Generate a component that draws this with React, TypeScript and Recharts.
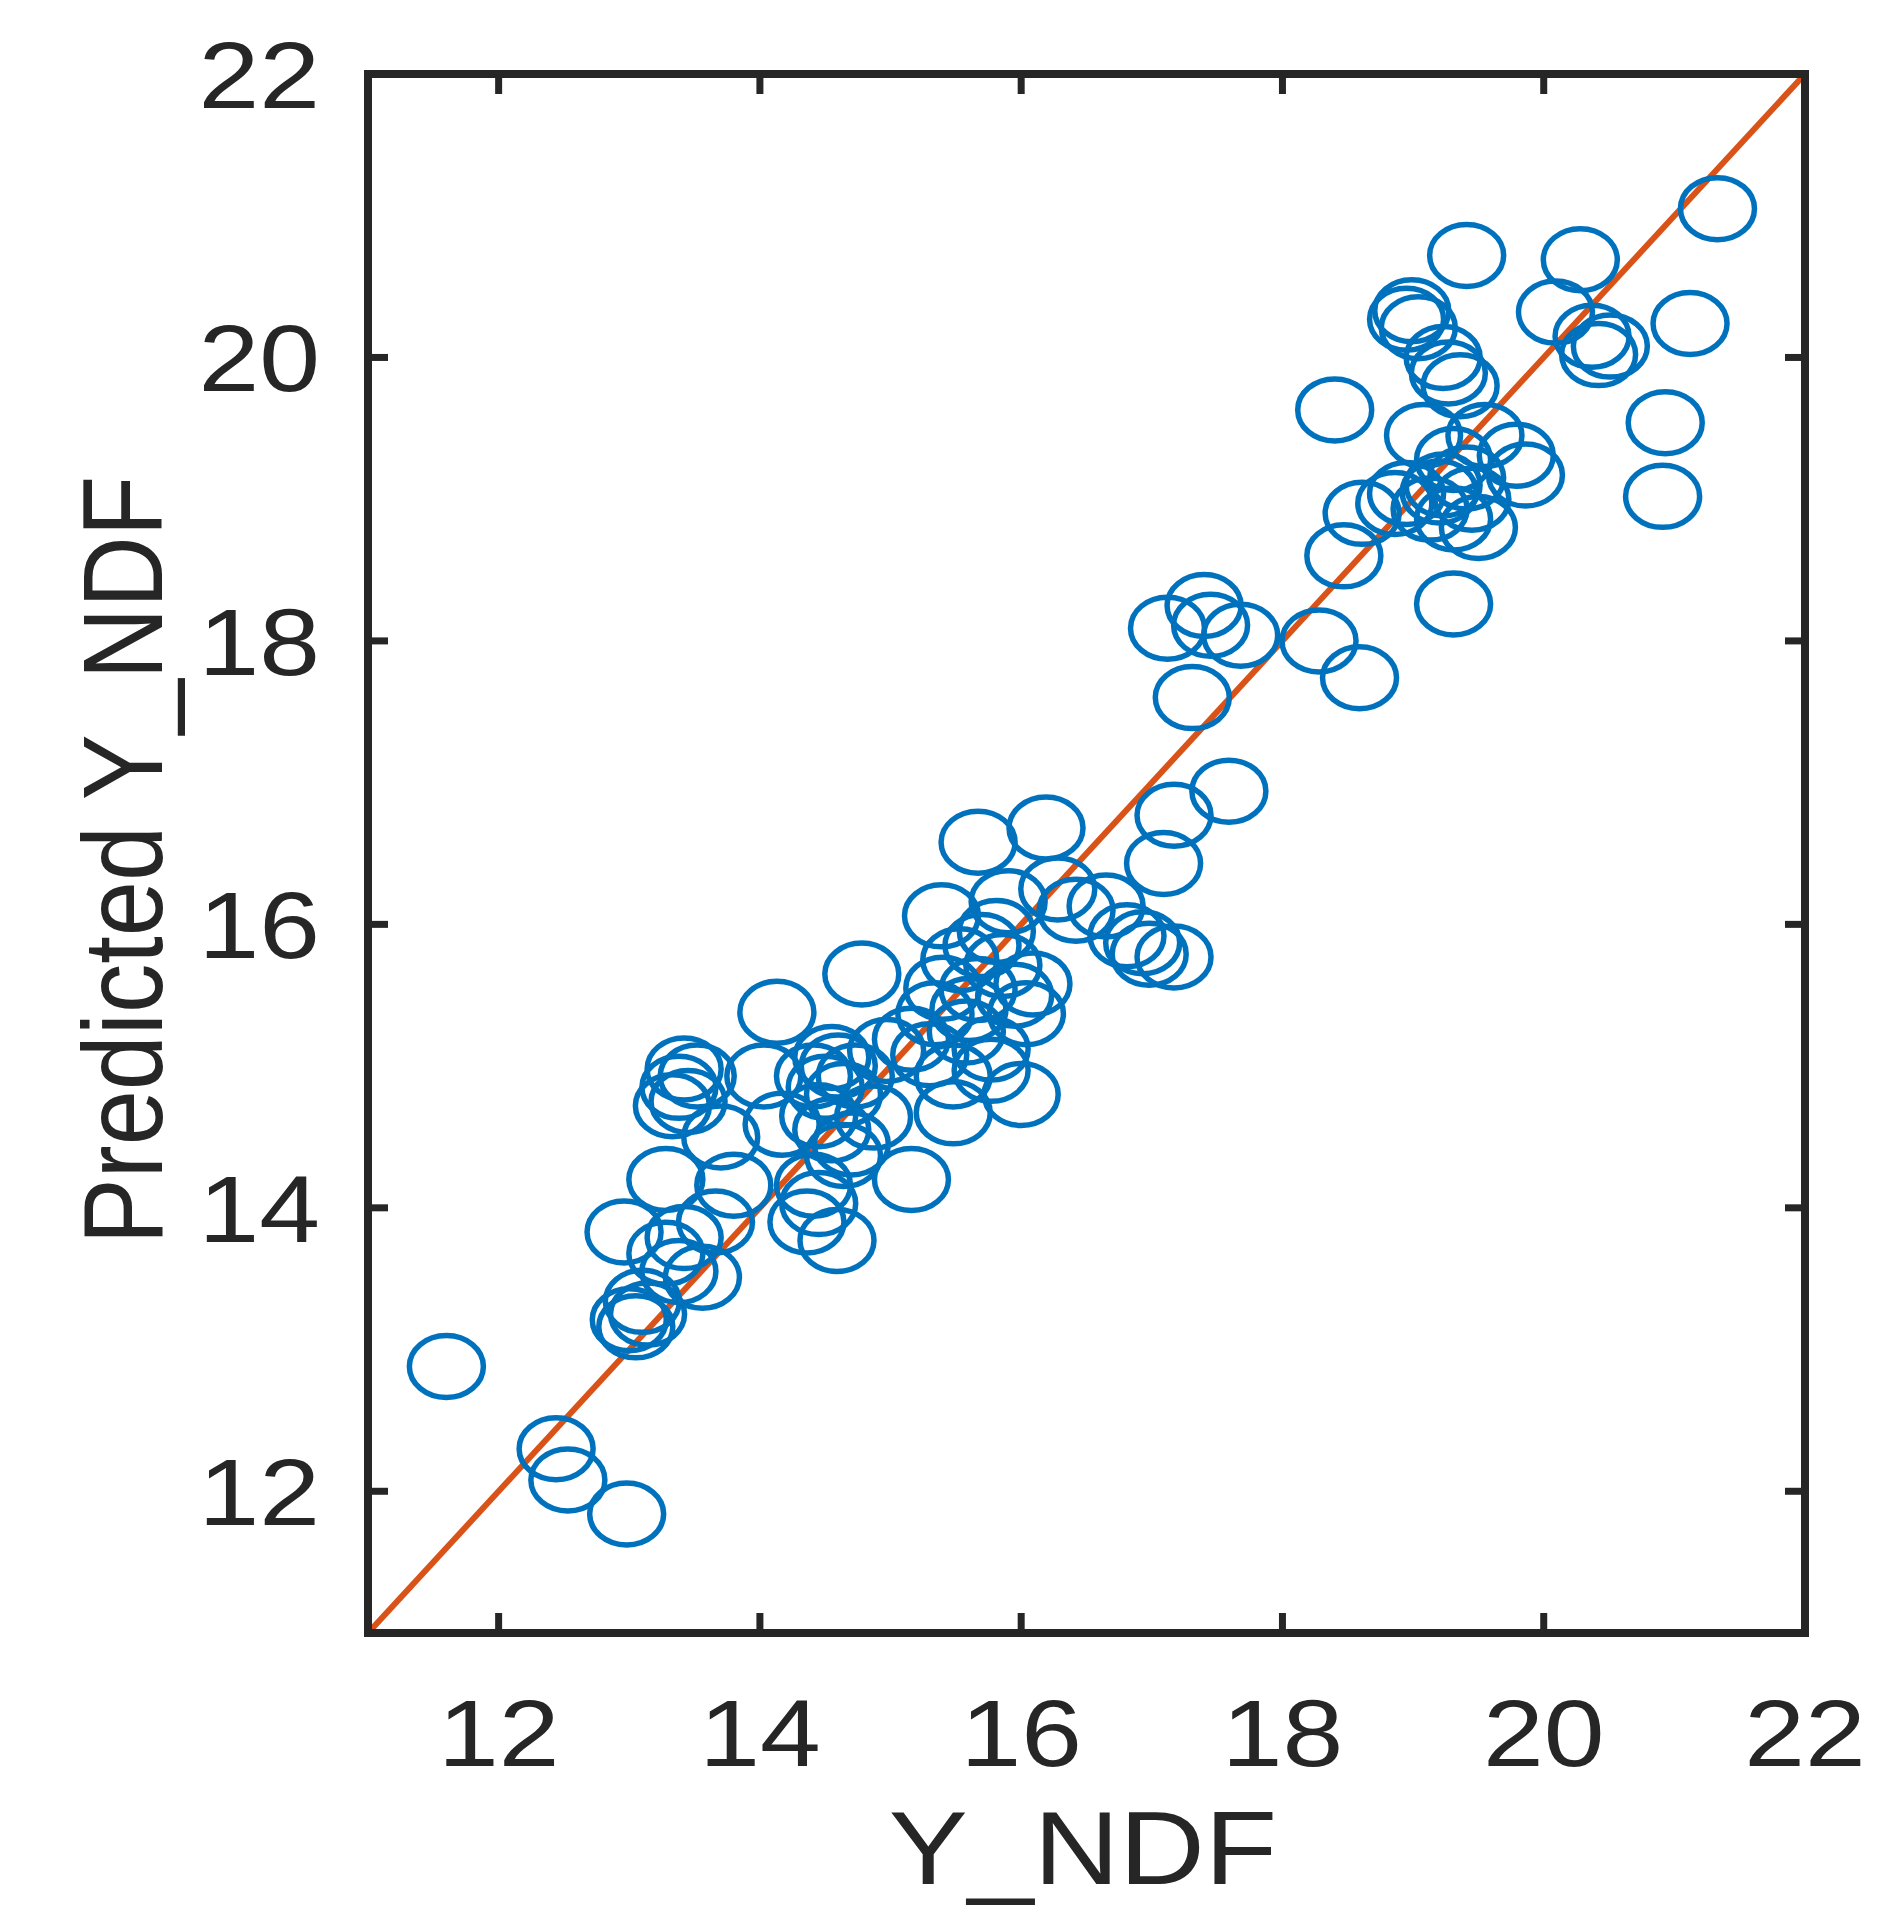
import { ReferenceLine, Scatter, ScatterChart, XAxis, YAxis, Label } from "recharts";

const measuredNdf = [
  21.33, 19.41, 20.28, 20.09, 20.37, 20.51, 20.42, 21.12, 18.99, 19.04, 18.95, 19.23,
  19.27, 19.36, 18.4, 20.93, 20.91, 19.08, 19.55, 19.79, 19.86, 19.31, 19.41, 19.23,
  18.95, 19.13, 19.5, 19.31, 18.61, 18.47, 19.31, 18.28, 18.59, 18.86, 19.2, 19.45,
  17.12, 17.4, 17.45, 17.68, 17.31,
  17.59, 17.17, 17.09, 16.65, 16.81, 16.98, 17.17, 16.93,
  15.67, 16.19, 15.39, 15.9, 16.28, 16.42, 15.81, 15.53, 15.86, 16.09, 15.67, 16.04,
  15.34, 15.58, 15.77, 15.3, 15.48, 15.77, 16.0, 15.48, 15.16, 15.16, 15.6, 15.7, 15.95, 15.4,
  14.78, 14.13, 14.55, 14.41, 14.73, 14.64, 14.03, 14.17, 14.55, 14.87, 14.64, 14.41,
  14.45, 14.36, 14.59, 14.97, 14.5, 14.6, 14.45, 14.7,
  13.42, 13.38, 13.33, 13.52, 13.45, 13.7, 13.8, 13.28, 12.96, 13.28, 13.42, 13.56,
  13.1, 13.05, 13.14, 13.0, 13.66, 13.38,
  11.6, 12.44, 12.53, 12.98,
];

const predictedNdf = [
  21.05, 20.72, 20.69, 20.32, 20.15, 20.08, 20.02, 20.24, 20.33, 20.21, 20.27, 20.0,
  19.89, 19.8, 19.63, 19.54, 19.02, 19.45, 19.45, 19.31, 19.17, 19.28, 19.15, 19.1,
  19.04, 18.93, 18.8, 18.86, 18.9, 18.6, 18.26, 18.0, 17.74, 18.97, 19.05, 19.0,
  18.09, 18.25, 18.11, 18.04, 17.6,
  16.94, 16.77, 16.43, 16.13, 15.92, 15.79, 15.77, 15.87,
  16.58, 16.68, 16.06, 16.16, 16.25, 16.1, 15.95, 15.75, 15.71, 15.58, 15.54, 15.37,
  15.37, 15.24, 15.12, 15.08, 14.93, 14.97, 14.8, 14.67, 14.2, 15.19, 15.4, 15.85, 15.5, 15.55,
  15.65, 15.38, 15.06, 14.93, 14.93, 14.8, 14.93, 14.59, 14.55, 14.64, 14.37, 14.16,
  14.03, 13.9, 13.77, 15.11, 14.85, 15.0, 14.65, 14.45,
  14.98, 14.85, 14.72, 14.93, 14.75, 14.5, 14.16, 14.2, 13.83, 13.68, 13.79, 13.51,
  13.34, 13.16, 13.25, 13.21, 13.9, 13.55,
  12.88, 12.3, 12.08, 11.84,
];

const axisTicks = [12, 14, 16, 18, 20, 22];
const axisDomain = [11, 22];

const points = measuredNdf.map((x, i) => ({ x, y: predictedNdf[i] }));

const INK = "#262626";
const FONT = "'Liberation Sans', Arial, Helvetica, sans-serif";

function Ring(props: any) {
  const { cx, cy } = props;
  return <ellipse cx={cx} cy={cy} rx={37} ry={31} fill="none" stroke="#0072BD" strokeWidth={5.5} />;
}

function BottomTick(props: any) {
  const { x, payload } = props;
  return (
    <text transform={`translate(${x},1758) scale(1.15,1)`} textAnchor="middle" fontSize={95} fontFamily={FONT} fill={INK}>
      {payload.value}
    </text>
  );
}

function LeftTick(props: any) {
  const { y, payload } = props;
  return (
    <text transform={`translate(312,${y + 34}) scale(1.15,1)`} textAnchor="end" fontSize={95} fontFamily={FONT} fill={INK}>
      {payload.value}
    </text>
  );
}

const NoTick = () => <g />;

const frame = { stroke: INK, strokeWidth: 8, strokeLinecap: "square" as const };
const tickMark = { stroke: INK, strokeWidth: 7 };

export default function App() {
  return (
    <ScatterChart width={1868} height={1901} margin={{ top: 65, right: 70, bottom: 0, left: 0 }}>
      <XAxis
        xAxisId="b"
        type="number"
        dataKey="x"
        domain={axisDomain}
        ticks={axisTicks}
        allowDataOverflow
        height={276}
        axisLine={frame}
        tickLine={tickMark}
        tickSize={-20}
        tick={BottomTick}
      >
        <Label
          content={() => (
            <text transform="translate(1075,1876) scale(1.15,1)" textAnchor="middle" fontSize={103} fontFamily={FONT} fill={INK}>
              Y_NDF
            </text>
          )}
        />
      </XAxis>
      <XAxis
        xAxisId="t"
        orientation="top"
        type="number"
        dataKey="x"
        domain={axisDomain}
        ticks={axisTicks}
        allowDataOverflow
        height={1}
        axisLine={frame}
        tickLine={tickMark}
        tickSize={-20}
        tick={NoTick}
      />
      <YAxis
        yAxisId="l"
        type="number"
        dataKey="y"
        domain={axisDomain}
        ticks={axisTicks}
        allowDataOverflow
        width={360}
        axisLine={frame}
        tickLine={tickMark}
        tickSize={-20}
        tick={LeftTick}
      >
        <Label
          content={() => (
            <text transform="translate(154,852) scale(1.15,1) rotate(-90)" textAnchor="middle" fontSize={99} fontFamily={FONT} fill={INK}>
              Predicted Y_NDF
            </text>
          )}
        />
      </YAxis>
      <YAxis
        yAxisId="r"
        orientation="right"
        type="number"
        dataKey="y"
        domain={axisDomain}
        ticks={axisTicks}
        allowDataOverflow
        width={1}
        axisLine={frame}
        tickLine={tickMark}
        tickSize={-20}
        tick={NoTick}
      />
      <Scatter xAxisId="b" yAxisId="l" data={points} shape={Ring} isAnimationActive={false} />
      <Scatter xAxisId="t" yAxisId="r" data={points} shape={NoTick} isAnimationActive={false} />
      <ReferenceLine xAxisId="b" yAxisId="l" y={axisDomain[1]} stroke={INK} strokeWidth={8} ifOverflow="visible" />
      <ReferenceLine xAxisId="b" yAxisId="l" x={axisDomain[1]} stroke={INK} strokeWidth={8} ifOverflow="visible" />
      <ReferenceLine
        xAxisId="b"
        yAxisId="l"
        segment={[
          { x: axisDomain[0], y: axisDomain[0] },
          { x: axisDomain[1], y: axisDomain[1] },
        ]}
        stroke="#D95319"
        strokeWidth={6}
        ifOverflow="visible"
      />
    </ScatterChart>
  );
}
